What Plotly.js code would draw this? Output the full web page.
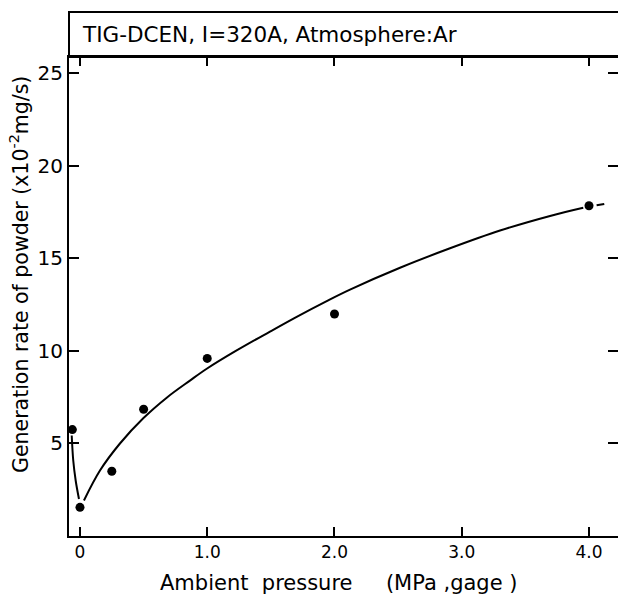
<!DOCTYPE html>
<html>
<head>
<meta charset="utf-8">
<script src="https://cdn.plot.ly/plotly-3.0.1.min.js"></script>
<style>html,body{margin:0;padding:0;background:#fff;}#chart{width:618px;height:596px;}</style>
</head>
<body>
<div id="chart"></div>
<script>
// Measured points
var pressure = [-0.06, 0.0, 0.25, 0.5, 1.0, 2.0, 4.0];
var rate = [5.75, 1.55, 3.5, 6.85, 9.6, 12.0, 17.85];

// Hand-drawn curve (left branch, right branch, dashed tail)
var curveLeftX = [-0.065, -0.053, -0.034, -0.008];
var curveLeftY = [5.43, 4.08, 3.0, 2.0];
var curveRightX = [0.031, 0.157, 0.314, 0.495, 0.684, 0.864, 0.996, 1.231, 1.493, 1.703, 1.939, 2.122, 2.515, 2.908, 3.301, 3.694, 3.955];
var curveRightY = [1.92, 3.54, 5.0, 6.35, 7.49, 8.4, 9.04, 10.03, 11.05, 11.85, 12.7, 13.32, 14.5, 15.55, 16.51, 17.3, 17.74];
var tailX = [4.06, 4.12];
var tailY = [17.88, 17.95];

var xTickVals = [0, 1, 2, 3, 4];
var xTickText = ["0", "1.0", "2.0", "3.0", "4.0"];
var yTickVals = [5, 10, 15, 20, 25];
var yTickText = ["5", "10", "15", "20", "25"];

var NB = "\u00a0";
var titleText = "TIG-DCEN, I=320A, Atmosphere:Ar";
var xTitle = "Ambient" + NB + NB + "pressure" + NB + NB + NB + NB + NB + "(MPa" + NB + ",gage" + NB + ")";
var yTitle = "Generation rate of powder (x10<sup>-2</sup>mg/s)";

var FONT = "DejaVu Sans, sans-serif";
var lineStyle = {color: "#000", width: 2, shape: "spline", smoothing: 1};

var traces = [
  {x: curveLeftX, y: curveLeftY, mode: "lines", line: lineStyle, hoverinfo: "skip"},
  {x: curveRightX, y: curveRightY, mode: "lines", line: lineStyle, hoverinfo: "skip"},
  {x: tailX, y: tailY, mode: "lines", line: {color: "#000", width: 2}, hoverinfo: "skip"},
  {x: pressure, y: rate, mode: "markers", marker: {color: "#000", size: 9}},
  {x: pressure, y: rate, yaxis: "y2", mode: "markers", marker: {opacity: 0}, hoverinfo: "skip"}
];

var layout = {
  width: 618, height: 596,
  margin: {l: 69, r: 0, t: 57, b: 60},
  paper_bgcolor: "#fff", plot_bgcolor: "#fff",
  showlegend: false,
  font: {family: FONT, color: "#000", size: 17},
  xaxis: {
    range: [-0.0864, 4.228],
    tickvals: xTickVals, ticktext: xTickText,
    ticks: "inside", ticklen: 9, tickwidth: 2, tickcolor: "#000",
    showline: true, linewidth: 2, linecolor: "#000", mirror: "ticks",
    showgrid: false, zeroline: false,
    tickfont: {family: FONT, size: 17, color: "#000"}
  },
  yaxis: {
    range: [0, 25.89],
    tickvals: yTickVals, ticktext: yTickText,
    ticks: "inside", ticklen: 10, tickwidth: 2, tickcolor: "#000",
    showline: true, linewidth: 2, linecolor: "#000", mirror: false,
    showgrid: false, zeroline: false,
    tickfont: {family: FONT, size: 20, color: "#000"}
  },
  yaxis2: {
    overlaying: "y", side: "right", range: [0, 25.89],
    tickvals: yTickVals, showticklabels: false,
    ticks: "inside", ticklen: 10, tickwidth: 2, tickcolor: "#000",
    showline: false, showgrid: false, zeroline: false
  },
  shapes: [
    {type: "rect", xref: "paper", yref: "paper", x0: 0, x1: 1.05, y0: 1.0, y1: 1.094,
     line: {color: "#000", width: 2}, fillcolor: "rgba(0,0,0,0)"}
  ],
  annotations: [
    {text: titleText, xref: "paper", yref: "paper", x: 0.02, y: 1.046,
     xanchor: "left", yanchor: "middle", showarrow: false,
     font: {family: FONT, size: 21.5, color: "#000"}},
    {text: xTitle, xref: "paper", yref: "paper", x: 0.49, y: -0.098,
     xanchor: "center", yanchor: "middle", showarrow: false,
     font: {family: FONT, size: 21, color: "#000"}},
    {text: yTitle, xref: "paper", yref: "paper", x: -0.0893, y: 0.547,
     xanchor: "center", yanchor: "middle", showarrow: false, textangle: -90,
     font: {family: FONT, size: 20.5, color: "#000"}}
  ]
};

Plotly.newPlot("chart", traces, layout, {staticPlot: true, displayModeBar: false});
</script>
</body>
</html>
